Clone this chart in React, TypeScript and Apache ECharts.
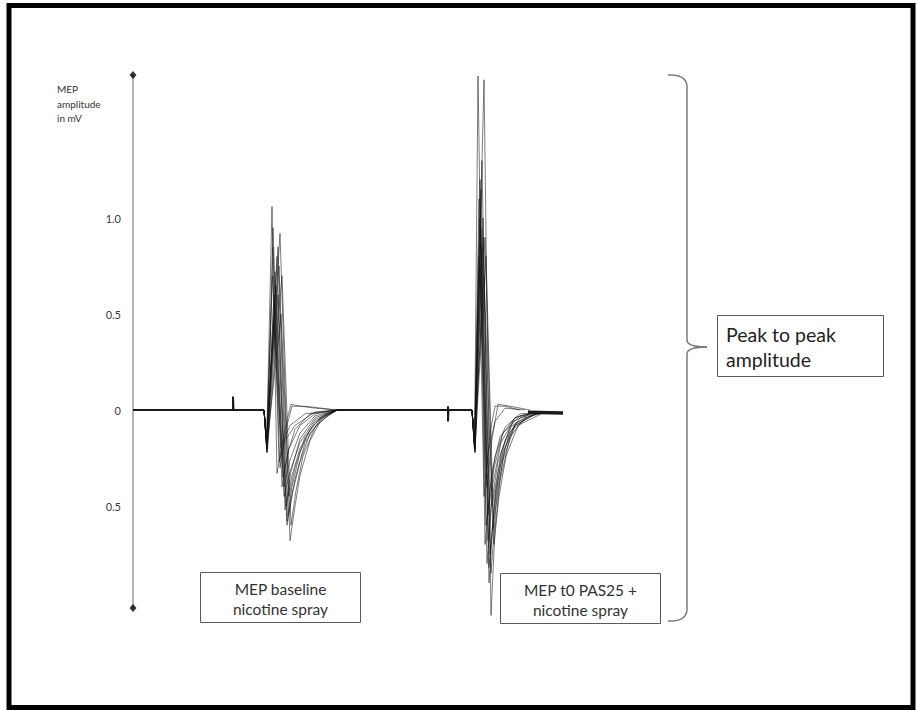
import React, { useEffect, useRef } from "react";
import * as echarts from "echarts";

// ---- Data (time in ms, amplitude in mV) ----
const yTickValues = [-0.5, 0, 0.5, 1.0];
const yMin = -1.031;
const yMax = 1.745;
const xMin = 0;
const xMax = 110;

// axis end markers (diamonds at both ends of the amplitude axis)
const axisEndMarkers: number[][] = [[0, yMax], [0, yMin]];

// baseline segments of the recording (with stimulus artefacts)
const baselineA: number[][] = [[0, 0], [20.0, 0], [20.0, 0.07], [20.1, 0], [26.2, 0]];
const baselineB: number[][] = [[40.8, 0], [63.0, 0], [63.0, 0.02], [63.0, -0.06], [63.1, 0], [67.8, 0]];
const baselineC: number[][] = [[79.0, -0.012], [86.0, -0.015]];

// MEP traces at baseline (nicotine spray)
const mepBaseline: number[][][] = [
  [[26.2, 0], [26.7, -0.2], [27.8, 1.06], [28.8, -0.33], [29.8, -0.18], [31.4, -0.08], [34.4, -0.02], [40.8, 0]],
  [[26.2, 0], [26.8, -0.22], [28.0, 0.85], [29.2, -0.27], [30.4, -0.16], [32.4, -0.08], [36.4, -0.01], [40.8, 0]],
  [[26.2, 0], [26.7, -0.15], [27.9, 0.7], [30.2, -0.45], [31.4, -0.32], [33.4, -0.17], [36.4, -0.05], [40.8, 0]],
  [[26.2, 0], [26.8, -0.2], [29.4, 0.92], [31.4, -0.68], [32.4, -0.5], [33.4, -0.34], [35.4, -0.16], [37.4, -0.06], [40.8, 0]],
  [[26.2, 0], [26.8, -0.18], [29.2, 0.75], [31.0, -0.55], [32.4, -0.36], [34.4, -0.17], [37.4, -0.05], [40.8, 0]],
  [[26.2, 0], [26.9, -0.2], [29.0, 0.6], [30.6, -0.5], [31.8, -0.34], [33.4, -0.2], [36.4, -0.06], [40.8, 0]],
  [[26.2, 0], [26.7, -0.16], [28.4, 0.55], [30.2, -0.4], [31.4, -0.26], [33.4, -0.12], [36.4, -0.03], [40.8, 0]],
  [[26.2, 0], [26.8, -0.2], [28.6, 0.65], [30.8, -0.6], [32.0, -0.42], [33.4, -0.27], [35.4, -0.12], [38.4, -0.03], [40.8, 0]],
  [[26.2, 0], [26.8, -0.18], [29.6, 0.5], [31.2, -0.45], [32.4, -0.3], [34.4, -0.14], [37.4, -0.04], [40.8, 0]],
  [[26.2, 0], [26.7, -0.15], [28.2, 0.45], [29.6, -0.2], [30.8, -0.05], [31.6, 0.03], [33.4, 0.02], [36.4, 0.01], [40.8, 0]],
  [[26.2, 0], [26.8, -0.2], [28.8, 0.8], [30.4, -0.52], [31.6, -0.32], [33.4, -0.15], [36.4, -0.04], [40.8, 0]],
  [[26.2, 0], [26.8, -0.22], [28.0, 0.95], [29.8, -0.4], [31.0, -0.22], [32.4, -0.1], [35.4, -0.02], [40.8, 0]],
  [[26.2, 0], [26.8, -0.2], [28.4, 0.72], [30.0, -0.35], [31.2, -0.2], [33.4, -0.08], [36.4, -0.02], [40.8, 0]],
  [[26.2, 0], [26.7, -0.18], [29.0, 0.85], [30.8, -0.58], [31.8, -0.4], [33.4, -0.22], [35.4, -0.1], [38.4, -0.02], [40.8, 0]],
  [[26.2, 0], [26.8, -0.2], [28.2, 0.6], [29.4, -0.3], [30.6, -0.1], [31.8, 0.02], [34.4, 0.02], [40.8, 0]],
  [[26.2, 0], [26.8, -0.22], [29.8, 0.7], [31.6, -0.6], [32.6, -0.42], [34.0, -0.24], [36.4, -0.09], [39.4, -0.02], [40.8, 0]],
];

// MEP traces at t0 after PAS25 + nicotine spray
const mepPas25: number[][][] = [
  [[67.8, 0], [68.3, -0.2], [69.0, 1.74], [70.4, -0.7], [71.4, -0.42], [72.4, -0.24], [74.4, -0.09], [77.4, -0.02], [81.4, -0.01]],
  [[67.8, 0], [68.4, -0.22], [70.2, 1.72], [71.6, -1.07], [72.4, -0.62], [73.4, -0.37], [75.4, -0.14], [78.4, -0.04], [82.4, -0.01]],
  [[67.8, 0], [68.3, -0.18], [69.2, 1.1], [70.8, -0.8], [71.8, -0.47], [73.0, -0.27], [75.4, -0.09], [79.4, -0.02], [82.4, -0.01]],
  [[67.8, 0], [68.4, -0.2], [69.6, 0.95], [71.2, -0.9], [72.2, -0.52], [73.4, -0.3], [75.4, -0.11], [79.4, -0.03], [83.0, -0.01]],
  [[67.8, 0], [68.3, -0.2], [69.4, 1.2], [70.6, -0.6], [71.8, -0.32], [73.4, -0.14], [76.4, -0.04], [80.4, -0.01]],
  [[67.8, 0], [68.4, -0.22], [70.0, 1.0], [71.4, -0.75], [72.6, -0.42], [74.0, -0.22], [76.4, -0.07], [80.4, -0.02], [84.0, -0.01]],
  [[67.8, 0], [68.3, -0.16], [69.8, 0.85], [71.0, -0.55], [72.2, -0.3], [74.0, -0.12], [77.4, -0.03], [81.4, -0.01]],
  [[67.8, 0], [68.4, -0.2], [70.4, 0.9], [72.0, -0.62], [73.0, -0.4], [74.4, -0.2], [76.4, -0.08], [80.4, -0.02], [83.0, -0.01]],
  [[67.8, 0], [68.3, -0.2], [69.2, 0.8], [70.2, -0.45], [71.0, -0.22], [72.4, -0.06], [74.4, 0.01], [78.4, 0]],
  [[67.8, 0], [68.4, -0.2], [69.8, 1.3], [71.2, -0.82], [72.4, -0.44], [73.6, -0.22], [76.0, -0.06], [80.0, -0.01]],
  [[67.8, 0], [68.3, -0.18], [70.2, 0.7], [71.8, -0.5], [73.0, -0.32], [74.4, -0.16], [77.4, -0.04], [81.4, -0.01]],
  [[67.8, 0], [68.4, -0.2], [69.4, 1.0], [70.6, -0.35], [71.4, -0.12], [72.4, 0.02], [74.4, 0.02], [77.4, 0]],
  [[67.8, 0], [68.3, -0.2], [69.6, 1.15], [71.0, -0.68], [72.0, -0.38], [73.6, -0.17], [76.4, -0.04], [80.4, -0.01]],
  [[67.8, 0], [68.4, -0.22], [70.0, 0.9], [71.6, -0.85], [72.6, -0.5], [74.0, -0.26], [76.4, -0.08], [81.4, -0.01]],
  [[67.8, 0], [68.3, -0.18], [69.4, 0.75], [70.8, -0.4], [71.8, -0.15], [73.0, 0.03], [75.4, 0.02], [79.4, 0]],
  [[67.8, 0], [68.4, -0.2], [70.6, 0.8], [72.2, -0.7], [73.2, -0.45], [74.6, -0.24], [77.0, -0.08], [82.4, -0.01]],
];

const yAxisTitle = "MEP\namplitude\nin mV";
const boxLabelBaseline = "MEP baseline\nnicotine spray";
const boxLabelPas = "MEP t0 PAS25 +\nnicotine spray";
const braceLabel = "Peak to peak\namplitude";

const FONT = "Lato, 'Open Sans', 'Liberation Sans', sans-serif";

export default function App() {
  const ref = useRef<HTMLDivElement>(null);

  useEffect(() => {
    if (!ref.current) return;
    const chart = echarts.init(ref.current, null, { renderer: "svg" });

    const traceStyle = { color: "rgba(20,20,20,0.55)", width: 1 };
    const traceSeries = (arr: number[][][], prefix: string) =>
      arr.map((d, i) => ({
        name: `${prefix} ${i + 1}`,
        type: "line",
        data: d,
        showSymbol: false,
        symbol: "none",
        clip: false,
        silent: true,
        lineStyle: traceStyle,
        z: 3,
      }));
    const baseSeries = (d: number[][], name: string, width: number) => ({
      name,
      type: "line",
      data: d,
      showSymbol: false,
      symbol: "none",
      clip: false,
      silent: true,
      lineStyle: { color: "#1a1a1a", width },
      z: 4,
    });

    const stroke = "#7a7a7a";
    const boxStroke = "#5a5a5a";

    chart.setOption({
      animation: false,
      backgroundColor: "#ffffff",
      grid: { left: 133, right: 917 - 683, top: 75, bottom: 710 - 608, containLabel: false },
      xAxis: {
        type: "value",
        min: xMin,
        max: xMax,
        show: false,
      },
      yAxis: {
        type: "value",
        min: yMin,
        max: yMax,
        splitLine: { show: false },
        axisTick: { show: false },
        axisLine: {
          show: true,
          onZero: false,
          lineStyle: { color: "#9c9c9c", width: 1.5 },
        },
        axisLabel: {
          customValues: yTickValues,
          margin: 12,
          color: "#3a3a3a",
          fontSize: 11,
          fontFamily: FONT,
          formatter: (v: number) => (v === 0 ? "0" : Math.abs(v).toFixed(1)),
        },
      },
      series: [
        baseSeries(baselineA, "baseline 1", 2),
        baseSeries(baselineB, "baseline 2", 2),
        baseSeries(baselineC, "baseline 3", 3.5),
        ...traceSeries(mepBaseline, "MEP baseline"),
        ...traceSeries(mepPas25, "MEP PAS25"),
        {
          name: "axis ends",
          type: "scatter",
          data: axisEndMarkers,
          symbol: "diamond",
          symbolSize: [7, 8],
          clip: false,
          silent: true,
          itemStyle: { color: "#000" },
          z: 5,
        },
      ],
      graphic: [
        {
          type: "rect",
          shape: { x: 9, y: 5.5, width: 904, height: 702 },
          style: { fill: "none", stroke: "#000", lineWidth: 5 },
          silent: true,
        },
        {
          type: "text",
          x: 57,
          y: 103.5,
          style: {
            text: yAxisTitle,
            fontSize: 10,
            lineHeight: 14.5,
            fontFamily: FONT,
            fill: "#333",
            align: "left",
            verticalAlign: "middle",
          },
        },
        {
          type: "rect",
          shape: { x: 200.5, y: 572.5, width: 160, height: 50 },
          style: { fill: "#fff", stroke: boxStroke, lineWidth: 1 },
        },
        {
          type: "text",
          x: 280.5,
          y: 599,
          style: {
            text: boxLabelBaseline,
            fontSize: 15.5,
            lineHeight: 20,
            fontFamily: FONT,
            fill: "#333",
            align: "center",
            verticalAlign: "middle",
          },
        },
        {
          type: "rect",
          shape: { x: 500.5, y: 573.5, width: 160, height: 50 },
          style: { fill: "#fff", stroke: boxStroke, lineWidth: 1 },
          z: 10,
        },
        {
          type: "text",
          x: 580.5,
          y: 600,
          z: 11,
          style: {
            text: boxLabelPas,
            fontSize: 15.5,
            lineHeight: 20,
            fontFamily: FONT,
            fill: "#333",
            align: "center",
            verticalAlign: "middle",
          },
        },
        {
          type: "rect",
          shape: { x: 717.5, y: 315.5, width: 166, height: 61 },
          style: { fill: "#fff", stroke: boxStroke, lineWidth: 1 },
        },
        {
          type: "text",
          x: 726,
          y: 347,
          style: {
            text: braceLabel,
            fontSize: 19.5,
            lineHeight: 25,
            fontFamily: FONT,
            fill: "#222",
            align: "left",
            verticalAlign: "middle",
          },
        },
        // curly brace
        {
          type: "bezierCurve",
          shape: { x1: 668, y1: 75, x2: 687, y2: 86, cpx1: 686, cpy1: 74 },
          style: { stroke, lineWidth: 1.5, fill: null },
        },
        {
          type: "line",
          shape: { x1: 687, y1: 86, x2: 687, y2: 340 },
          style: { stroke, lineWidth: 1.5 },
        },
        {
          type: "bezierCurve",
          shape: { x1: 687, y1: 340, x2: 707, y2: 347, cpx1: 687, cpy1: 347 },
          style: { stroke, lineWidth: 1.5, fill: null },
        },
        {
          type: "bezierCurve",
          shape: { x1: 707, y1: 347, x2: 687, y2: 354, cpx1: 687, cpy1: 347 },
          style: { stroke, lineWidth: 1.5, fill: null },
        },
        {
          type: "line",
          shape: { x1: 687, y1: 354, x2: 687, y2: 610 },
          style: { stroke, lineWidth: 1.5 },
        },
        {
          type: "bezierCurve",
          shape: { x1: 687, y1: 610, x2: 668, y2: 621, cpx1: 686, cpy1: 622 },
          style: { stroke, lineWidth: 1.5, fill: null },
        },
      ],
    });

    return () => chart.dispose();
  }, []);

  return (
    <div
      ref={ref}
      style={{ position: "absolute", left: 0, top: 0, width: 917, height: 710, background: "#fff" }}
    />
  );
}
